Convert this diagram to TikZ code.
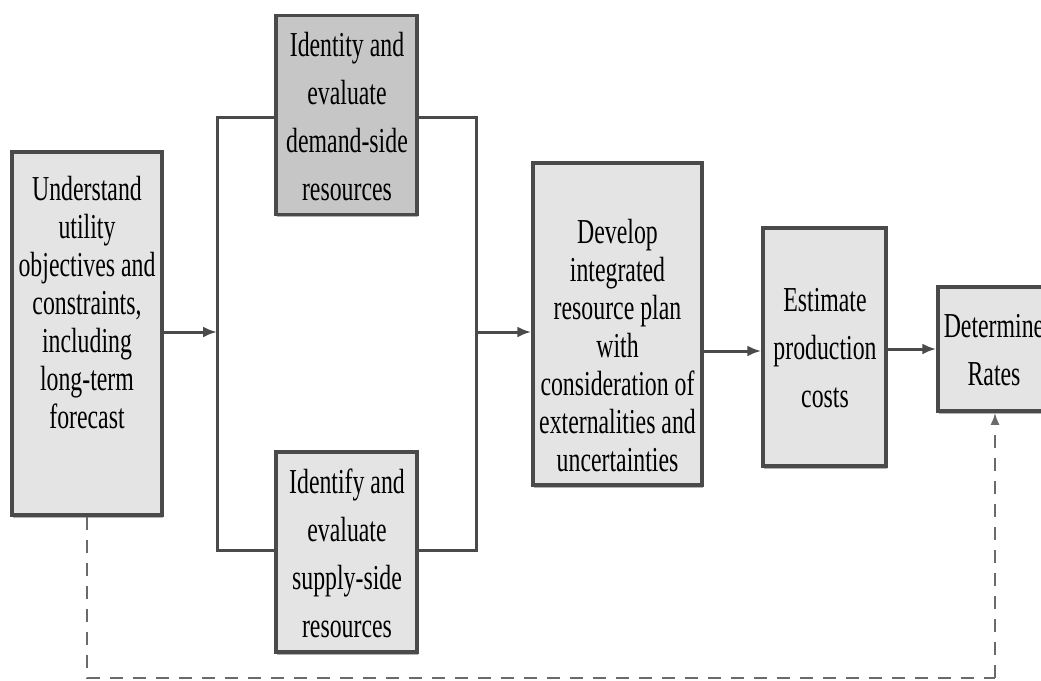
\documentclass[tikz,border=0pt]{standalone}
\usepackage{fontspec}
\setmainfont{Liberation Serif}[FakeStretch=0.68]
\usetikzlibrary{arrows.meta,shadows}
\definecolor{boxfill}{HTML}{E4E4E4}
\definecolor{darkfill}{HTML}{C6C6C6}
\definecolor{edge}{HTML}{4A4A4A}
\definecolor{dashcol}{HTML}{6A6A6A}
\begin{document}
\begin{tikzpicture}[x=1pt,y=-1pt,
  box/.style={draw=edge, line width=3.5pt, fill=boxfill, inner sep=0pt,
    drop shadow={shadow xshift=1pt, shadow yshift=-2.5pt, fill=black, opacity=0.3}},
  darkbox/.style={box, fill=darkfill},
  tight/.style={font=\fontsize{35}{38}\selectfont, align=center, inner sep=0pt},
  loose/.style={font=\fontsize{35}{48}\selectfont, align=center, inner sep=0pt},
  conn/.style={draw=edge, line width=3pt},
  arrow/.style={conn, -{Latex[length=14pt,width=11pt]}},
  dashline/.style={draw=dashcol, line width=2pt, dash pattern=on 13pt off 10pt},
  dasharrow/.style={dashline, -{Latex[length=12pt,width=9pt]}}
]
\useasboundingbox (0,0) rectangle (1041,680);
\clip (0,0) rectangle (1041,680);

% boxes
\node[box, minimum width=150pt, minimum height=363pt] (left) at (87,333.5) {};
\node[darkbox, minimum width=141pt, minimum height=199pt] (demand) at (346.5,115) {};
\node[box, minimum width=141pt, minimum height=200pt] (supply) at (346.5,552) {};
\node[box, minimum width=169pt, minimum height=322pt] (develop) at (617.5,324) {};
\node[box, minimum width=123pt, minimum height=238pt] (estimate) at (824.5,347) {};
\node[box, minimum width=112pt, minimum height=124pt] (determine) at (994,349) {};

% texts
\node[tight] (tleft) at (87,303) {Understand\\utility\\objectives and\\constraints,\\including\\long-term\\forecast};
\node[loose] (tdemand) at (347,117) {Identity and\\evaluate\\demand-side\\resources};
\node[loose] (tsupply) at (347,553) {Identify and\\evaluate\\supply-side\\resources};
\node[tight] (tdevelop) at (617.5,346) {Develop\\integrated\\resource plan\\with\\consideration of\\externalities and\\uncertainties};
\node[loose] (testimate) at (825,348) {Estimate\\production\\costs};
\node[loose] (tdetermine) at (994,350) {Determine\\Rates};

% bracket
\coordinate (tl) at (217,117);
\coordinate (tr) at (476,117);
\coordinate (bl) at (217,550);
\coordinate (br) at (476,550);
\coordinate (in1) at (217,332);
\coordinate (out1) at (476,332);
\coordinate (a2) at (0,351);
\coordinate (a3) at (0,349);
\coordinate (dl) at (87,678);
\coordinate (dr) at (995,678);

\draw[conn] (demand.west |- tl) -- (tl) -- (bl) -- (supply.west |- bl);
\draw[conn] (demand.east |- tr) -- (tr) -- (br) -- (supply.east |- br);

% arrows
\draw[arrow] (left.east |- in1) -- (in1);
\draw[arrow] (out1) -- (develop.west |- out1);
\draw[arrow] (develop.east |- a2) -- (estimate.west |- a2);
\draw[arrow] (estimate.east |- a3) -- (determine.west |- a3);

% dashed feedback
\draw[dashline] (left.south) -- (dl) -- (dr);
\draw[dasharrow] (dr) -- (dr |- determine.south);
\end{tikzpicture}
\end{document}
